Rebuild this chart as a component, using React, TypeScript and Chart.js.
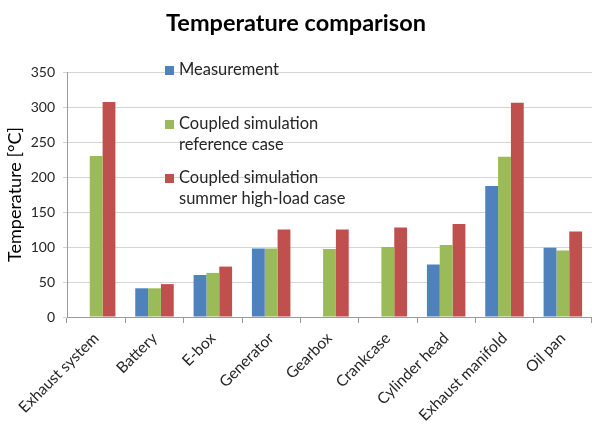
import React, { useEffect, useRef } from "react";
import { Chart, registerables } from "chart.js";

Chart.register(...registerables);

const categories = [
  "Exhaust system",
  "Battery",
  "E-box",
  "Generator",
  "Gearbox",
  "Crankcase",
  "Cylinder head",
  "Exhaust manifold",
  "Oil pan",
];
const measurement = [null, 41, 60, 98, null, null, 75, 187, 99];
const simReference = [230, 41, 63, 98, 97, 100, 103, 229, 95];
const simSummer = [307, 47, 72, 125, 125, 128, 133, 306, 122];
const seriesLabels = [
  ["Measurement"],
  ["Coupled simulation", "reference case"],
  ["Coupled simulation", "summer high-load case"],
];
const seriesColors = ["#4f81bd", "#9bbb59", "#c0504d"];
const yTicks = [0, 50, 100, 150, 200, 250, 300, 350];

const FONT = "Lato, 'Open Sans', sans-serif";

const legendPlugin = {
  id: "customLegend",
  afterDraw(chart: any) {
    const { ctx, chartArea } = chart;
    const x0 = chartArea.left + 98;
    const rowTops = [chartArea.top - 2, chartArea.top + 52, chartArea.top + 106];
    ctx.save();
    ctx.font = `16.5px ${FONT}`;
    ctx.textBaseline = "middle";
    ctx.textAlign = "left";
    seriesLabels.forEach((lines, i) => {
      const y = rowTops[i];
      ctx.fillStyle = seriesColors[i];
      ctx.fillRect(x0, y - 4, 9, 9);
      ctx.fillStyle = "#262626";
      lines.forEach((t, j) => {
        ctx.fillText(t, x0 + 14, y + j * 21);
      });
    });
    ctx.restore();
  },
};

export default function App() {
  const ref = useRef<HTMLCanvasElement>(null);
  useEffect(() => {
    document.body.style.margin = "0";
    const chart = new Chart(ref.current!, {
      type: "bar",
      data: {
        labels: categories,
        datasets: [
          { label: "Measurement", data: measurement, backgroundColor: seriesColors[0] },
          { label: "Coupled simulation reference case", data: simReference, backgroundColor: seriesColors[1] },
          { label: "Coupled simulation summer high-load case", data: simSummer, backgroundColor: seriesColors[2] },
        ],
      },
      options: {
        animation: false,
        responsive: false,
        maintainAspectRatio: false,
        layout: { padding: { left: 0, right: 0, top: 0, bottom: 0 } },
        datasets: { bar: { categoryPercentage: 0.66, barPercentage: 1 } },
        plugins: {
          legend: { display: false },
          tooltip: { enabled: false },
          title: {
            display: true,
            text: "Temperature comparison",
            color: "#000",
            font: { family: FONT, size: 23.5, weight: "bold" },
            padding: { top: 9, bottom: 34.8 },
          },
        },
        scales: {
          x: {
            grid: {
              offset: true,
              drawOnChartArea: false,
              drawTicks: true,
              tickLength: 6,
              color: "#9a9a9a",
            },
            border: { color: "#9a9a9a" },
            ticks: {
              minRotation: 45,
              maxRotation: 45,
              autoSkip: false,
              color: "#262626",
              font: { family: FONT, size: 15.5 },
              padding: 6,
            },
            afterFit(scale: any) {
              scale.height = 110;
            },
          },
          y: {
            min: 0,
            max: 350,
            afterBuildTicks(scale: any) {
              scale.ticks = yTicks.map((v) => ({ value: v }));
            },
            grid: { color: "#d4d4d4", tickLength: 4, drawTicks: true },
            border: { color: "#9a9a9a" },
            ticks: {
              color: "#262626",
              font: { family: FONT, size: 14 },
              padding: 8,
            },
            title: {
              display: true,
              text: "Temperature [°C]",
              color: "#000",
              font: { family: FONT, size: 18 },
              padding: { top: 4, bottom: 0 },
            },
            afterFit(scale: any) {
              scale.width = 67;
            },
          },
        },
      },
      plugins: [legendPlugin],
    });
    return () => chart.destroy();
  }, []);
  return (
    <div style={{ width: 592, height: 427, background: "#fff" }}>
      <canvas ref={ref} width={592} height={427} />
    </div>
  );
}
